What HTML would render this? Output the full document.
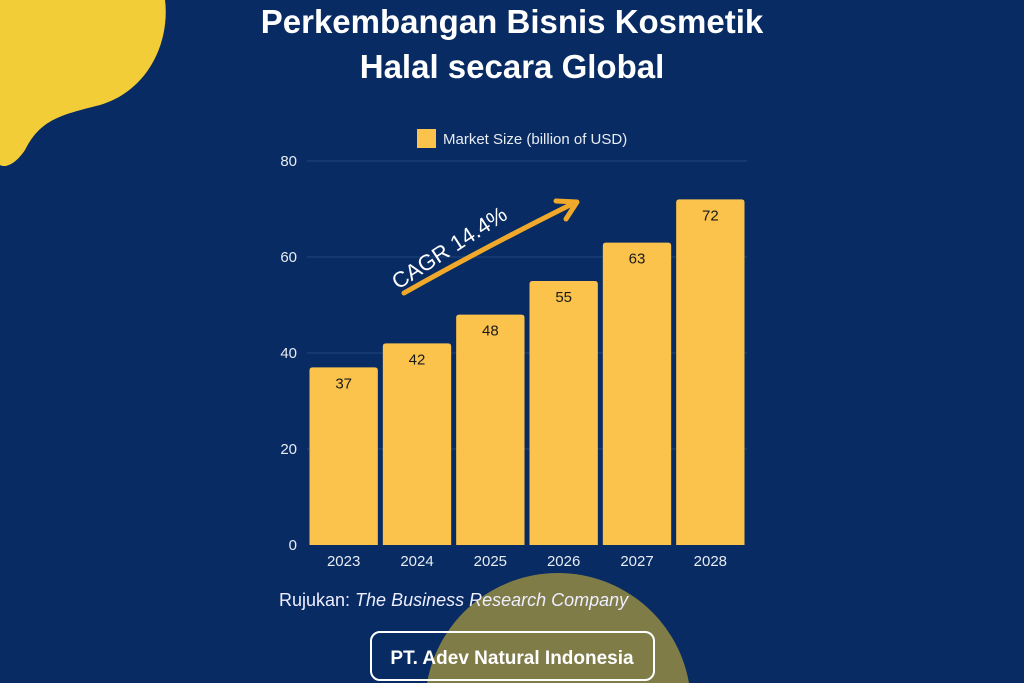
<!DOCTYPE html>
<html><head><meta charset="utf-8"><style>
html,body{margin:0;width:1024px;height:683px;overflow:hidden;background:#072b62;font-family:"Liberation Sans",sans-serif;}
svg{display:block;}
</style></head><body>
<svg width="1024" height="683" viewBox="0 0 1024 683">
<path d="M0,0 L165,0 C170,40 150,90 100,105 C60,115 40,120 25,150 C15,165 5,168 0,165 Z" fill="#f3cd38"/>
<path d="M427,683 A133,133 0 0 1 689,683 Z" fill="#7f7c48"/>
<text x="512" y="33" text-anchor="middle" fill="#fff" font-size="33" font-weight="bold">Perkembangan Bisnis Kosmetik</text>
<text x="512" y="78" text-anchor="middle" fill="#fff" font-size="33" font-weight="bold">Halal secara Global</text>
<rect x="417" y="129" width="19" height="19" fill="#fbc34b"/>
<text x="443" y="144" fill="#e8ecf3" font-size="15">Market Size (billion of USD)</text>
<g id="chart"></g>
<g>
<path d="M404,293 Q480,250 570,205" stroke="#f0a92a" stroke-width="5" fill="none" stroke-linecap="round"/>
<path d="M556,201 L577,202 L566,219" stroke="#f0a92a" stroke-width="5" fill="none" stroke-linecap="round" stroke-linejoin="round"/>
<text x="0" y="0" transform="translate(398,290) rotate(-33)" fill="#fff" font-size="22">CAGR 14.4%</text>
</g>
<text x="279" y="606" fill="#eef" font-size="18">Rujukan: <tspan font-style="italic">The Business Research Company</tspan></text>
<rect x="371" y="632" width="283" height="48" rx="9" fill="none" stroke="#fff" stroke-width="2"/>
<text x="512" y="664" text-anchor="middle" fill="#fff" font-size="19" font-weight="bold">PT. Adev Natural Indonesia</text>
</svg>
<script>
const categories=["2023","2024","2025","2026","2027","2028"];
const values=[37,42,48,55,63,72];
const yTicks=[0,20,40,60,80];
const NS="http://www.w3.org/2000/svg";
const g=document.getElementById('chart');
const x0=307,x1=747,y0=545,y1=161,yMax=80;
const band=(x1-x0)/categories.length;
const y=v=>y0-(v/yMax)*(y0-y1);
const xb=i=>x0+i*band;
function mk(t,a){const e=document.createElementNS(NS,t);for(const k in a)e.setAttribute(k,a[k]);g.appendChild(e);return e;}
yTicks.forEach(t=>{
 if(t>0){const l=mk('line',{x1:x0,x2:x1,y1:y(t),y2:y(t),stroke:'#23457a','stroke-width':1});
 
 }
 const tx=mk('text',{x:297,y:y(t)+5,'text-anchor':'end',fill:'#e8ecf3','font-size':15});tx.textContent=t;
 
 
});
categories.forEach((c,i)=>{
 const bx=xb(i)+2.5,bw=band-5;
 const r=mk('path',{d:`M${bx},${y0} L${bx},${y(values[i])+3} Q${bx},${y(values[i])} ${bx+3},${y(values[i])} L${bx+bw-3},${y(values[i])} Q${bx+bw},${y(values[i])} ${bx+bw},${y(values[i])+3} L${bx+bw},${y0} Z`,fill:'#fbc34b'});
 
 
 const v=mk('text',{x:bx+bw/2,y:y(values[i])+21,'text-anchor':'middle',fill:'#1a1a1a','font-size':15});v.textContent=values[i];
 
 
 const l=mk('text',{x:bx+bw/2,y:566,'text-anchor':'middle',fill:'#e8ecf3','font-size':15});l.textContent=c;
 
 
});
</script>
</body></html>
